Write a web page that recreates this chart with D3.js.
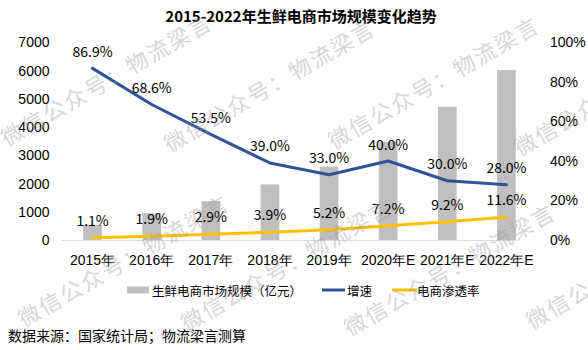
<!DOCTYPE html>
<html><head><meta charset="utf-8">
<script src="https://cdn.jsdelivr.net/npm/d3@7"></script>
<style>
html,body{margin:0;padding:0;background:#fff;}
svg{display:block;font-family:"Noto Sans CJK SC","Noto Sans",sans-serif;}
</style></head>
<body>
<svg id="c" width="588" height="350"></svg>
<script>
const categories = ["2015年","2016年","2017年","2018年","2019年","2020年E","2021年E","2022年E"];
const marketSize = [530, 950, 1380, 1970, 2600, 3480, 4720, 6020];
const growthRate = [86.9, 68.6, 53.5, 39.0, 33.0, 40.0, 30.0, 28.0];
const penetration = [1.1, 1.9, 2.9, 3.9, 5.2, 7.2, 9.2, 11.6];
const leftTicks = [0, 1000, 2000, 3000, 4000, 5000, 6000, 7000];
const rightTicks = [0, 20, 40, 60, 80, 100];
const seriesNames = ["生鲜电商市场规模（亿元）", "增速", "电商渗透率"];
const titleText = "2015-2022年生鲜电商市场规模变化趋势";
const sourceText = "数据来源：国家统计局；物流梁言测算";
const watermarkText = "微信公众号：物流梁言";

const svg = d3.select("#c");
const C = {bar:"#BFBFBF", blue:"#2F5597", yellow:"#FFC000", axis:"#D9D9D9", text:"#000"};

const x = d3.scaleBand().domain(categories).range([63, 536]).padding(0);
const cx = d => x(d) + x.bandwidth()/2;
const yL = d3.scaleLinear().domain([0, 7000]).range([240, 42.5]);
const yR = d3.scaleLinear().domain([0, 100]).range([240, 42.5]);
const barW = 18.7;

// title
svg.append("text").attr("x", 301).attr("y", 15).attr("text-anchor","middle")
  .attr("dominant-baseline","central").attr("font-size",15).attr("font-weight","bold")
  .text(titleText);

// left axis
const gl = svg.append("g").attr("transform","translate(63,0)")
  .call(d3.axisLeft(yL).tickValues(leftTicks).tickSize(0).tickPadding(13.5).tickFormat(d3.format("d")));
gl.select(".domain").remove();
gl.selectAll("text").attr("font-size",14).attr("fill",C.text).attr("font-family",null);

// right axis
const gr = svg.append("g").attr("transform","translate(536,0)")
  .call(d3.axisRight(yR).tickValues(rightTicks).tickSize(0).tickPadding(14).tickFormat(d => d + "%"));
gr.select(".domain").remove();
gr.selectAll("text").attr("font-size",14).attr("fill",C.text).attr("font-family",null);

// bars
svg.append("g").selectAll("rect").data(marketSize).join("rect")
  .attr("x", (d,i) => cx(categories[i]) - barW/2)
  .attr("y", d => yL(d))
  .attr("width", barW)
  .attr("height", d => yL(0) - yL(d))
  .attr("fill", C.bar);

// x axis
const gx = svg.append("g").attr("transform","translate(0,240)")
  .call(d3.axisBottom(x).tickSize(0).tickPadding(15));
gx.select(".domain").remove();
gx.selectAll("text").attr("font-size",14).attr("fill",C.text).attr("font-family",null);
svg.append("line").attr("x1", x(categories[0]) - 1).attr("x2", cx(categories[categories.length-1]) + barW/2)
  .attr("y1", yL(0) + 0.5).attr("y2", yL(0) + 0.5).attr("stroke", C.axis).attr("stroke-width",1);

// lines
const lineG = d3.line().x((d,i) => cx(categories[i])).y(d => yR(d));
svg.append("path").datum(penetration).attr("d", lineG).attr("fill","none")
  .attr("stroke", C.yellow).attr("stroke-width",3).attr("stroke-linejoin","round").attr("stroke-linecap","round");
svg.append("path").datum(growthRate).attr("d", lineG).attr("fill","none")
  .attr("stroke", C.blue).attr("stroke-width",3).attr("stroke-linejoin","round").attr("stroke-linecap","round");

// data labels
const fmt = d => d.toFixed(1) + "%";
svg.append("g").selectAll("text").data(growthRate).join("text")
  .attr("x", (d,i) => cx(categories[i])).attr("y", d => yR(d) - 17.5)
  .attr("text-anchor","middle").attr("dominant-baseline","central").attr("font-size",14)
  .text(fmt);
svg.append("g").selectAll("text").data(penetration).join("text")
  .attr("x", (d,i) => cx(categories[i])).attr("y", d => yR(d) - 18)
  .attr("text-anchor","middle").attr("dominant-baseline","central").attr("font-size",14)
  .text(fmt);

// legend
const lg = svg.append("g");
lg.append("rect").attr("x",127).attr("y",286.5).attr("width",22).attr("height",7).attr("fill",C.bar);
lg.append("text").attr("x",152).attr("y",290).attr("dominant-baseline","central").attr("font-size",12.5).text(seriesNames[0]);
lg.append("line").attr("x1",322).attr("x2",345).attr("y1",290).attr("y2",290).attr("stroke",C.blue).attr("stroke-width",3);
lg.append("text").attr("x",347).attr("y",290).attr("dominant-baseline","central").attr("font-size",12.5).text(seriesNames[1]);
lg.append("line").attr("x1",392).attr("x2",417).attr("y1",290).attr("y2",290).attr("stroke",C.yellow).attr("stroke-width",3);
lg.append("text").attr("x",417).attr("y",290).attr("dominant-baseline","central").attr("font-size",12.5).text(seriesNames[2]);

// source
svg.append("text").attr("x",8).attr("y",335).attr("dominant-baseline","central").attr("font-size",14).text(sourceText);

// watermarks
const wm = [[7,147],[170,153],[334,150],[520,157],[24,328],[187,332],[350,337],[532,330]];
svg.append("g").selectAll("text").data(wm).join("text")
  .attr("transform", d => `translate(${d[0]},${d[1]}) rotate(-30)`)
  .attr("font-size",22).attr("letter-spacing",2).attr("fill","#9a9a9a").attr("opacity",0.4)
  .text(watermarkText);
</script>
</body></html>
